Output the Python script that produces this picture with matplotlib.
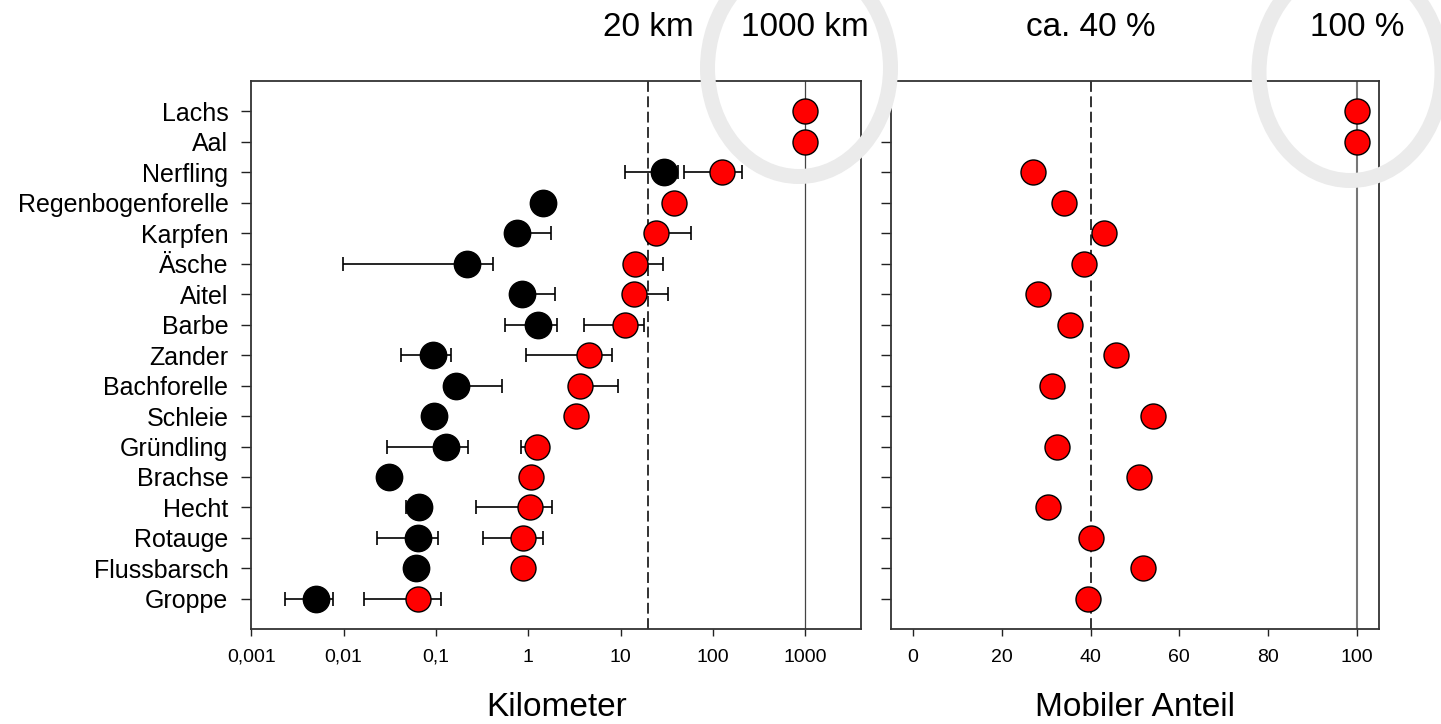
import numpy as np
import matplotlib
matplotlib.use("Agg")
import matplotlib.pyplot as plt
from matplotlib.patches import Ellipse
from matplotlib.transforms import blended_transform_factory

plt.rcParams['font.family'] = ['Liberation Sans', 'DejaVu Sans']

nan = np.nan

# species, top to bottom
species = ["Lachs", "Aal", "Nerfling", "Regenbogenforelle", "Karpfen", "Äsche", "Aitel",
           "Barbe", "Zander", "Bachforelle", "Schleie", "Gründling", "Brachse", "Hecht",
           "Rotauge", "Flussbarsch", "Groppe"]

# black dots (km) with lower / upper error ends
black_km = [nan, nan, 29.8, 1.43, 0.75, 0.216, 0.86, 1.29, 0.094, 0.167, 0.096, 0.128,
            0.031, 0.066, 0.064, 0.061, 0.0050]
black_lo = [nan, nan, 11.2, nan, nan, 0.0098, nan, 0.567, 0.0415, nan, nan, 0.0298,
            nan, 0.048, 0.0228, nan, 0.0023]
black_hi = [nan, nan, 41.6, nan, 1.76, 0.42, 1.96, 2.03, 0.146, 0.526, nan, 0.225,
            nan, nan, 0.105, nan, 0.0077]

# red dots (km) with lower / upper error ends
red_km = [1000, 1000, 125, 37.7, 24.2, 14.3, 14.1, 11.2, 4.51, 3.63, 3.26, 1.23,
          1.06, 1.04, 0.889, 0.874, 0.0646]
red_lo = [nan, nan, 48.3, nan, nan, nan, nan, 3.98, 0.935, nan, nan, 0.83,
          nan, 0.272, 0.324, nan, 0.0166]
red_hi = [nan, nan, 207, nan, 58, 28.6, 32.4, 18.1, 8.0, 9.44, nan, 1.5,
          nan, 1.80, 1.45, nan, 0.1136]

# mobile share (%)
mobile_pct = [100, 100, 27.0, 33.9, 42.9, 38.4, 28.1, 35.3, 45.7, 31.4, 54.0, 32.5,
              50.9, 30.3, 40.0, 51.9, 39.3]

km_ticks = [0.001, 0.01, 0.1, 1, 10, 100, 1000]
km_ticklabels = ["0,001", "0,01", "0,1", "1", "10", "100", "1000"]
pct_ticks = [0, 20, 40, 60, 80, 100]

y = np.arange(len(species))[::-1]


def err(center, lo, hi):
    # missing ends -> zero length, hidden behind the dot
    c = np.array(center, float)
    lo = np.where(np.isnan(lo), c, lo)
    hi = np.where(np.isnan(hi), c, hi)
    return np.vstack([c - lo, hi - c])


W, H = 1441, 724
fig = plt.figure(figsize=(W / 100, H / 100), dpi=100)
ax1 = fig.add_axes([251.3 / W, 1 - 629.3 / H, (861 - 251.3) / W, (629.3 - 81) / H])
ax2 = fig.add_axes([891 / W, 1 - 629.3 / H, (1379 - 891) / W, (629.3 - 81) / H])

# left panel: Kilometer
ax1.set_xscale('log')
ax1.axvline(20, color='#222222', lw=1.3, ls=(0, (6, 2.5)), zorder=1)
ax1.axvline(1000, color='#444444', lw=0.9, zorder=1)
bk = np.array(black_km, float)
ax1.errorbar(bk, y, xerr=err(bk, black_lo, black_hi), fmt='none', ecolor='black',
             elinewidth=1.2, capsize=5.3, capthick=1.2, zorder=2)
rk = np.array(red_km, float)
ax1.errorbar(rk, y, xerr=err(rk, red_lo, red_hi), fmt='none', ecolor='black',
             elinewidth=1.2, capsize=5.3, capthick=1.2, zorder=2)
ax1.plot(bk, y, 'o', color='black', ms=19, zorder=3)
ax1.plot(rk, y, 'o', mfc='red', mec='black', mew=1.0, ms=18, zorder=4)
ax1.set_xlim(0.001, 4030)
ax1.set_xticks(km_ticks)
ax1.set_xticklabels(km_ticklabels)
ax1.minorticks_off()
ax1.set_yticks(y)
ax1.set_yticklabels(species, fontsize=18)

# right panel: Mobiler Anteil
ax2.axvline(40, color='#222222', lw=1.3, ls=(0, (6, 2.5)), zorder=1)
ax2.axvline(100, color='#777777', lw=1.5, zorder=1)
ax2.plot(mobile_pct, y, 'o', mfc='red', mec='black', mew=1.0, ms=18, zorder=4)
ax2.set_xlim(-5, 105)
ax2.set_xticks(pct_ticks)
ax2.set_yticks(y)
ax2.set_yticklabels([])

for ax in (ax1, ax2):
    ax.set_ylim(-1, 17)
    for s in ax.spines.values():
        s.set_color('#333333')
        s.set_linewidth(1.3)
    ax.tick_params(axis='x', length=5, width=1, pad=9, labelsize=14, color='#222222')
    ax.tick_params(axis='y', length=7, width=1, pad=9.5, color='#222222')

# top annotations
t1 = blended_transform_factory(ax1.transData, fig.transFigure)
t2 = blended_transform_factory(ax2.transData, fig.transFigure)
ty = 1 - 36 / H
ax1.text(20, ty, "20 km", transform=t1, ha='center', va='baseline', fontsize=24)
ax1.text(1000, ty, "1000 km", transform=t1, ha='center', va='baseline', fontsize=24)
ax2.text(40, ty, "ca. 40 %", transform=t2, ha='center', va='baseline', fontsize=24)
ax2.text(100, ty, "100 %", transform=t2, ha='center', va='baseline', fontsize=24)

# axis titles
fig.text((251.3 + 861) / 2 / W, 1 - 716 / H, "Kilometer", ha='center', va='baseline', fontsize=24)
fig.text((891 + 1379) / 2 / W, 1 - 716 / H, "Mobiler Anteil", ha='center', va='baseline', fontsize=24)

# highlight rings
for cx, cy in [(799, 68), (1350.5, 72)]:
    fig.add_artist(Ellipse((cx / W, 1 - cy / H), 183 / W, 217 / H, transform=fig.transFigure,
                           fill=False, ec='#ebebeb', lw=10.8, zorder=5))

fig.savefig("out.png", dpi=100)
